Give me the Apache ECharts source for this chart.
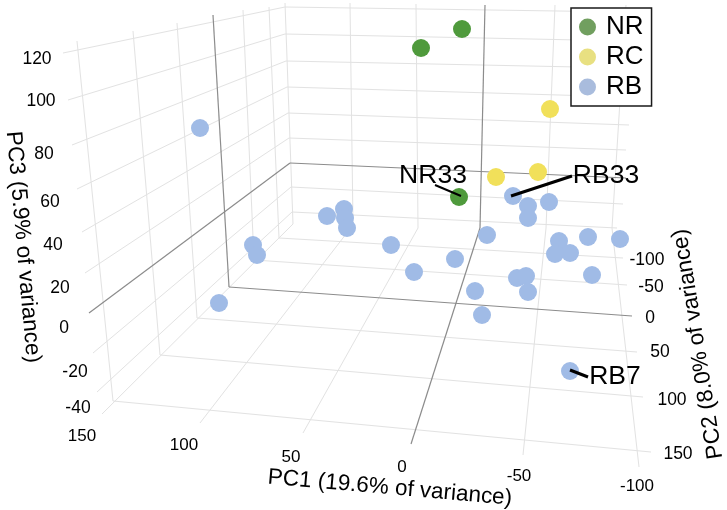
<!DOCTYPE html>
<html><head><meta charset="utf-8">
<style>html,body{margin:0;padding:0;background:#fff}#c{width:727px;height:510px}</style>
<script src="https://cdn.jsdelivr.net/npm/echarts@6/dist/echarts.min.js"></script>
</head><body><div id="c"></div>
<script>
// The chart is a 3-D view; values are its projected coordinates.
const groups = ['NR', 'RC', 'RB'];
const nrPoints = [[462,29],[421,48],[459,197]];
const rcPoints = [[550,109],[496,177],[538,172]];
const rbPoints = [[200,128],[327,216],[344,209],[345,218],[347,228],[253,245],[257,255],[391,245],
  [219,303],[414,272],[455,259],[487,235],[513,196],[528,206],[528,218],[549,202],[559,241],[555,254],
  [570,253],[588,237],[620,239],[592,275],[517,278],[526,276],[528,292],[475,291],[482,315],[570,371]];

// Left wall verticals (PC2 ticks), back wall verticals and floor lines (PC1 ticks), wall and floor rules.
const leftVerticals = [[[77,41],[113,401]],[[133,31],[160,355]],[[177,23],[197,318]],
  [[243,10],[254,260]],[[269,7],[279,238]],[[285,3],[293,224]]];
const leftVerticalZero = [[213,15],[229,287]];
const backVerticals = [[[350,3],[353,225]],[[416,4],[418,228]],[[555,5],[546,228]],[[626,5],[612,228]]];
const backVerticalZero = [[485,5],[480,228]];
const leftRules = [[[63,53],[285,7]],[[68,100],[285,34]],[[72,145],[286,61]],[[77,189],[287,87]],
  [[82,232],[288,113]],[[85,273],[289,138]],[[93,353],[291,187]],[[97,392],[292,212]]];
const leftRuleZero = [[89,313],[290,163]];
const backRules = [[[285,7],[626,12]],[[285,34],[629,41]],[[286,61],[627,68]],[[287,87],[627,97]],
  [[288,113],[629,125]],[[289,138],[626,150]],[[291,187],[623,204]],[[292,212],[617,228]]];
const backRuleZero = [[290,163],[626,178]];
const floorDepth = [[[102,414],[293,224]],[[353,225],[200,423]],[[418,228],[303,433]],
  [[546,228],[523,455]],[[612,228],[639,467]]];
const floorDepthZero = [[480,228],[411,444]];
const floorAcross = [[[279,238],[623,258]],[[254,260],[627,285]],[[197,318],[637,352]],
  [[160,355],[643,397]],[[113,401],[651,452]]];
const floorAcrossZero = [[229,287],[632,316]];

const pc3Ticks = [['120',37,59],['100',41,101],['80',44,154],['60',50,202],['40',53,245],
  ['20',60,288],['0',64,328],['-20',75,372],['-40',78,408]];
const pc1Ticks = [['150',82,436],['100',184,445],['50',291,457],['0',402,467],['-50',519,476],['-100',637,486]];
const pc2Ticks = [['-100',647,260],['-50',651,287],['0',650,318],['50',660,352],['100',672,400],['150',678,454]];

const axisTitles = [['PC1 (19.6% of variance)',390,488,-5],['PC3 (5.9% of variance)',23,247,-85],
  ['PC2 (8.0% of variance)',698,344,99]];
const callouts = [['NR33',433,176],['RB33',606,176],['RB7',615,377]];
const leaders = [[[[435,185],[461,196]],2],[[[511,196],[572,176]],3],[[[570,370],[588,377]],3]];

const FONT = '"Liberation Sans", Arial, sans-serif';
const LIGHT = '#e2e2e2', DARK = '#8c8c8c';
const seg = (data, color, width, z) => ({
  type:'line', data, symbol:'none', silent:true, animation:false, z,
  lineStyle:{color, width}, itemStyle:{color}, emphasis:{disabled:true}, tooltip:{show:false}
});
const text = (rows, size, z) => rows.map(r => ({
  type:'scatter', data:[[r[1],r[2]]], symbolSize:0, silent:true, animation:false, z,
  itemStyle:{opacity:1},
  label:{show:true, position:'inside', formatter:r[0], fontFamily:FONT, fontSize:size,
    color:'#000', textBorderWidth:0, align:'center', verticalAlign:'middle', rotate:r[3]||0}
}));
const dots = (name, data, color) => ({
  type:'scatter', name, data, symbolSize:18, animation:false, z:5, itemStyle:{color, opacity:1}
});

const lightLines = [...leftVerticals,...backVerticals,...leftRules,...backRules,...floorDepth,...floorAcross];
const darkLines = [leftVerticalZero,backVerticalZero,leftRuleZero,backRuleZero,floorDepthZero,floorAcrossZero];

const chart = echarts.init(document.getElementById('c'), null, {renderer:'canvas'});
chart.setOption({
  animation:false,
  backgroundColor:'#fff',
  grid:{left:0,right:0,top:0,bottom:0},
  xAxis:{type:'value',min:0,max:727,show:false},
  yAxis:{type:'value',min:0,max:510,inverse:true,show:false},
  legend:{
    left:571, top:8, orient:'vertical', selectedMode:false,
    padding:[6,8,6,8], itemGap:4, itemWidth:17, itemHeight:17, icon:'circle',
    borderColor:'#1a1a1a', borderWidth:1.5, backgroundColor:'#fff', z:20,
    textStyle:{fontFamily:FONT,fontSize:26,color:'#000',padding:[0,0,0,5]},
    data:[
      {name:groups[0],itemStyle:{color:'#719f5f'}},
      {name:groups[1],itemStyle:{color:'#e8e081'}},
      {name:groups[2],itemStyle:{color:'#a9bcdd'}}
    ]
  },
  series:[
    ...lightLines.map(l => seg(l,LIGHT,1,1)),
    ...darkLines.map(l => seg(l,DARK,1.2,2)),
    dots(groups[0],nrPoints,'#4f9a3c'),
    dots(groups[1],rcPoints,'#f1e05a'),
    dots(groups[2],rbPoints,'#a0bbe6'),
    ...text(pc3Ticks,17.5,6),
    ...text(pc1Ticks,17,6),
    ...text(pc2Ticks,17.5,6),
    ...text(axisTitles,22.5,6),
    ...text(callouts,26.5,8),
    ...leaders.map(l => seg(l[0],'#000',l[1],9))
  ]
});
</script></body></html>
